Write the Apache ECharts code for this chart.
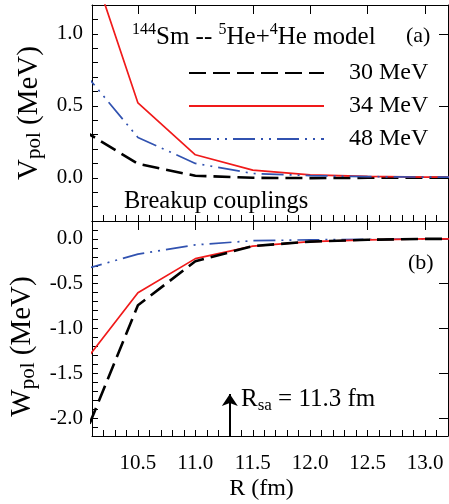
<!DOCTYPE html>
<html>
<head>
<meta charset="utf-8">
<script src="https://cdn.jsdelivr.net/npm/echarts@6/dist/echarts.min.js"></script>
<style>html,body{margin:0;padding:0;background:#fff}#c{width:449px;height:504px}</style>
</head>
<body>
<div id="c"></div>
<script>
// ---- data ----
const R = [10.0, 10.5, 11.0, 11.5, 12.0, 12.5, 13.0, 13.5];
const V30 = [0.34, 0.097, 0.014, 0.0, -0.002, 0.0, 0.0, 0.0];
const V34 = [1.71, 0.52, 0.16, 0.053, 0.02, 0.01, 0.005, 0.003];
const V48 = [0.76, 0.28, 0.10, 0.03, 0.015, 0.008, 0.005, 0.003];
const W30 = [-2.31, -0.74, -0.25, -0.08, -0.03, -0.01, 0.0, 0.0];
const W34 = [-1.43, -0.60, -0.22, -0.08, -0.03, -0.01, 0.0, 0.0];
const W48 = [-0.35, -0.17, -0.067, -0.02, -0.01, -0.005, 0.0, 0.0];
const seriesNames = ['30 MeV', '34 MeV', '48 MeV'];
const xTicks = [10.5, 11.0, 11.5, 12.0, 12.5, 13.0];
const vTicks = [0.0, 0.5, 1.0];
const wTicks = [-2.0, -1.5, -1.0, -0.5, 0.0];
const xRange = [10.1, 13.2];
const vRange = [-0.3, 1.2];
const wRange = [-2.2, 0.2];
const Rsa = 11.3;
const arrowTop = -1.73;

const FONT = 'Liberation Serif';
const chart = echarts.init(document.getElementById('c'), null, {renderer: 'canvas'});
const pair = (xs, ys) => xs.map((x, i) => [x, ys[i]]);
const axLine = () => ({show: true, onZero: false, lineStyle: {color: '#000', width: 1}});
const minorTick = () => ({show: true, inside: true, length: 6, lineStyle: {color: '#000', width: 1}});
const majorTick = vals => ({show: true, inside: true, length: 9, customValues: vals, lineStyle: {color: '#000', width: 1}});

function xAxes(grid, withLabels) {
  return [
    {type: 'value', gridIndex: grid, min: xRange[0], max: xRange[1], interval: 0.1, position: 'bottom',
      axisLine: axLine(), axisTick: minorTick(), splitLine: {show: false},
      axisLabel: withLabels ? {show: true, customValues: xTicks, formatter: v => v.toFixed(1),
        fontFamily: FONT, fontSize: 21, color: '#000', margin: 17} : {show: false},
      name: withLabels ? 'R (fm)' : '', nameLocation: 'middle', nameGap: 41,
      nameTextStyle: {fontFamily: FONT, fontSize: 24, color: '#000', padding: [0, 17, 0, 0]}},
    {type: 'value', gridIndex: grid, min: xRange[0], max: xRange[1], position: 'top',
      axisLine: axLine(), axisTick: majorTick(xTicks), splitLine: {show: false}, axisLabel: {show: false}}
  ];
}
function yAxes(grid, range, ticks, nameRich, namePad) {
  return [
    {type: 'value', gridIndex: grid, min: range[0], max: range[1], interval: 0.1, position: 'left',
      axisLine: axLine(), axisTick: minorTick(), splitLine: {show: false},
      axisLabel: {show: true, customValues: ticks, formatter: v => v.toFixed(1),
        fontFamily: FONT, fontSize: 21, color: '#000', margin: 9},
      name: nameRich, nameLocation: 'middle', nameRotate: 90, nameGap: 47,
      nameTextStyle: {fontFamily: FONT, color: '#000', padding: namePad,
        rich: {m: {fontFamily: FONT, fontSize: 29, lineHeight: 32, color: '#000'},
               s: {fontFamily: FONT, fontSize: 21, color: '#000', verticalAlign: 'bottom', lineHeight: 21}}}},
    {type: 'value', gridIndex: grid, min: range[0], max: range[1], position: 'right',
      axisLine: axLine(), axisTick: majorTick(ticks), splitLine: {show: false}, axisLabel: {show: false}}
  ];
}

const styles = [
  {color: '#000000', width: 2.6, type: [17, 7]},
  {color: '#f01a1a', width: 1.7, type: 'solid'},
  {color: '#3152b0', width: 1.7, type: [22, 6, 2, 6, 2, 6]}
];
function mkSeries(name, data, xi, yi, st, extra) {
  return Object.assign({
    name: name, type: 'line', xAxisIndex: xi, yAxisIndex: yi, data: data,
    symbol: 'none', showSymbol: false, clip: true, smooth: false,
    lineStyle: {color: st.color, width: st.width, type: st.type},
    itemStyle: {color: st.color}
  }, extra || {});
}
const txt = (size, extra) => Object.assign({fontFamily: FONT, fontSize: size, fontWeight: 'normal', color: '#000'}, extra || {});

const option = {
  animation: false,
  grid: [
    {left: 92, width: 356, top: 5, height: 216},
    {left: 92, width: 356, top: 221, height: 215}
  ],
  xAxis: xAxes(0, false).concat(xAxes(1, true)),
  yAxis: yAxes(0, vRange, vTicks, '{m|V}{s|pol}{m| (MeV)}', [0, 0, 0, 0])
    .concat(yAxes(1, wRange, wTicks, '{m|W}{s|pol}{m| (MeV)}', [0, 36, 0, 0])),
  legend: {
    orient: 'vertical', left: 183, top: 56, itemWidth: 135, itemHeight: 14, itemGap: 9,
    data: seriesNames,
    itemStyle: {opacity: 0},
    textStyle: txt(24, {padding: [0, 0, 0, 20]})
  },
  title: [
    {text: '{sup|144}{m|Sm -- }{sup|5}{m|He+}{sup|4}{m|He model}', left: 127, top: 17,
      textStyle: {fontWeight: 'normal', rich: {m: txt(25, {lineHeight: 31}),
        sup: txt(16, {verticalAlign: 'top', lineHeight: 20})}}},
    {text: '(a)', left: 401, top: 20, textStyle: txt(22)},
    {text: 'Breakup couplings', left: 119, top: 184, textStyle: txt(24.5)},
    {text: '(b)', left: 403, top: 247, textStyle: txt(22)},
    {text: '{m|R}{s|sa}{m| = 11.3 fm}', left: 236, top: 379,
      textStyle: {fontWeight: 'normal', rich: {m: txt(25, {lineHeight: 30}),
        s: txt(17, {verticalAlign: 'bottom', lineHeight: 18})}}}
  ],
  series: [
    mkSeries(seriesNames[0], pair(R, V30), 0, 0, styles[0]),
    mkSeries(seriesNames[1], pair(R, V34), 0, 0, styles[1]),
    mkSeries(seriesNames[2], pair(R, V48), 0, 0, styles[2]),
    mkSeries(seriesNames[2], pair(R, W48), 2, 2, styles[2]),
    mkSeries(seriesNames[1], pair(R, W34), 2, 2, styles[1]),
    mkSeries(seriesNames[0], pair(R, W30), 2, 2, styles[0], {
      markLine: {
        silent: true, symbol: ['none', 'arrow'], symbolSize: 12,
        lineStyle: {color: '#000', width: 2, type: 'solid'}, label: {show: false},
        data: [[{coord: [Rsa, wRange[0]]}, {coord: [Rsa, arrowTop]}]]
      }
    })
  ]
};
chart.setOption(option);
</script>
</body>
</html>
